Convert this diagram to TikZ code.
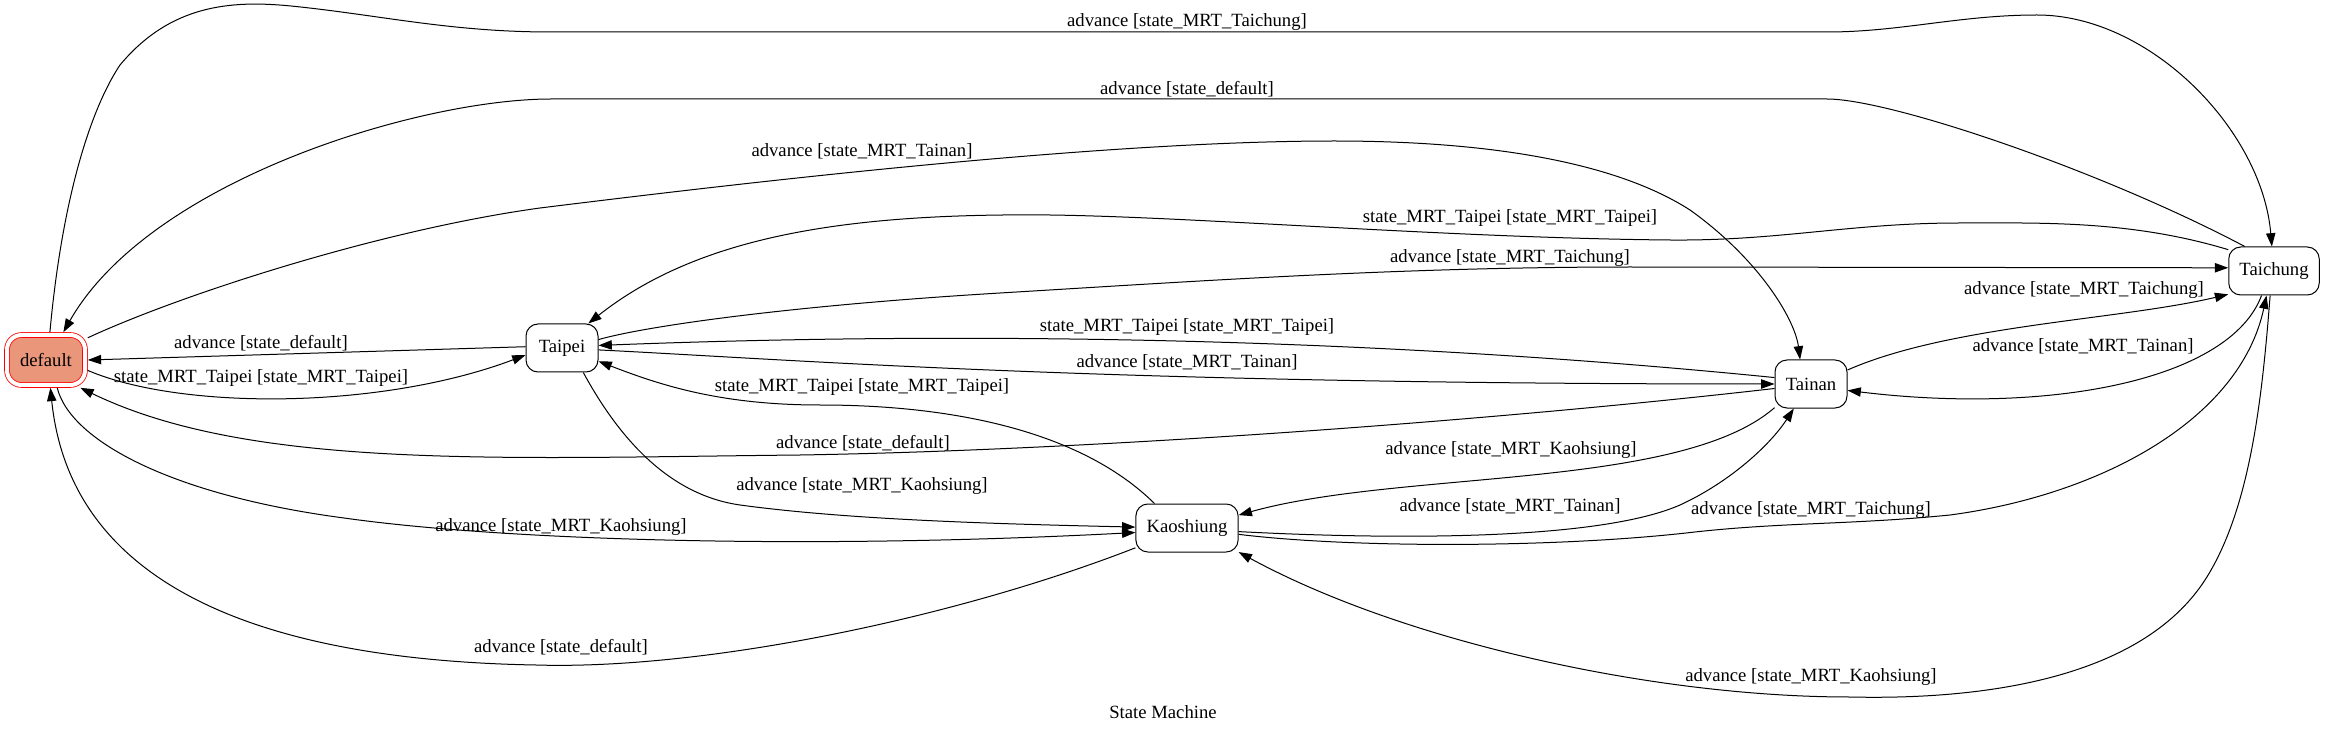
\documentclass[tikz,border=0pt]{standalone}
\usepackage{fontspec}
\setmainfont{Liberation Serif}
\usepackage{xcolor}
\usepackage{tikz}
\usetikzlibrary{arrows.meta}

\definecolor{darksalmon}{RGB}{233,150,122}

\tikzset{
    state/.style = {draw, rounded corners = 9pt, line width = 0.75pt,
        minimum width = 54pt, minimum height = 36pt, inner xsep = 8pt},
    initstate/.style = {draw = red, fill = darksalmon, double = white,
        double distance = 3pt, line width = 0.6pt, rounded corners = 11pt,
        minimum width = 58.5pt, minimum height = 37.5pt, outer sep = 2.1pt},
    tr/.style = {line width = 0.75pt, -{Triangle[length = 10pt, width = 7pt]}},
    lbl/.style = {inner sep = 0pt}
}

\begin{document}
\begin{tikzpicture}[x = 0.75pt, y = -0.75pt, font = \fontsize{14}{16.8}\selectfont]
                \useasboundingbox (0, 0) rectangle (2325, 734);

                \node [initstate] (default) at (46, 360) {default};
                \node [state] (Taipei) at (562, 348) {Taipei};
                \node [state] (Tainan) at (1811, 384) {Tainan};
                \node [state] (Taichung) at (2274, 271) {Taichung};
                \node [state] (Kaoshiung) at (1187, 528) {Kaoshiung};

                \draw [tr] (default.82) .. controls (62, 200) and (90, 110) .. (120, 65)
                    .. controls (170, 5) and (230, 0) .. (291, 6)
                    .. controls (380, 15) and (450, 32) .. (551, 32) -- (1827, 32)
                    .. controls (1900, 32) and (1960, 15) .. (2037, 15)
                    .. controls (2150, 15) and (2262, 130) .. (Taichung.95);
                \draw [tr] (Taichung.140) .. controls (2100, 170) and (1890, 99) .. (1827, 99) -- (551, 99)
                    .. controls (420, 99) and (150, 180) .. (default.58);
                \draw [tr] (default.28) .. controls (180, 295) and (380, 230) .. (540, 208)
                    .. controls (750, 182) and (1100, 141) .. (1334, 141)
                    .. controls (1500, 141) and (1620, 165) .. (1690, 210)
                    .. controls (1760, 260) and (1795, 320) .. (Tainan.114);
                \draw [tr] (Taichung.155) .. controls (2130, 220) and (2040, 223) .. (1959, 223)
                    .. controls (1850, 223) and (1780, 241) .. (1670, 240)
                    .. controls (1450, 238) and (1200, 217) .. (1050, 215)
                    .. controls (850, 213) and (700, 235) .. (Taipei.43);
                \draw [tr] (Taipei.13) .. controls (650, 325) and (800, 305) .. (1000, 293)
                    .. controls (1200, 281) and (1400, 267) .. (1631, 267) -- (Taichung.176);
                \draw [tr] (Taipei.178) -- (default.east);
                \draw [tr] (default.-14) .. controls (180, 410) and (380, 410) .. (Taipei.191);
                \draw [tr] (Tainan.170) .. controls (1450, 345) and (1050, 328) .. (Taipei.4);
                \draw [tr] (Taipei.-3) .. controls (800, 360) and (1100, 384) .. (Tainan.west);
                \draw [tr] (Tainan.21) .. controls (1950, 325) and (2120, 320) .. (Taichung.207);
                \draw [tr] (Taichung.243) .. controls (2230, 380) and (2050, 415) .. (Tainan.-10);
                \draw [tr] (Kaoshiung.143) .. controls (1080, 430) and (950, 405) .. (820, 405)
                    .. controls (720, 405) and (660, 385) .. (Taipei.-20);
                \draw [tr] (Tainan.187) .. controls (1500, 420) and (1100, 450) .. (800, 455)
                    .. controls (500, 458) and (250, 470) .. (default.-39);
                \draw [tr] (Tainan.213) .. controls (1680, 490) and (1400, 470) .. (Kaoshiung.14);
                \draw [tr] (Taipei.-49) .. controls (620, 440) and (670, 495) .. (740, 505)
                    .. controls (850, 520) and (1000, 524) .. (Kaoshiung.179);
                \draw [tr] (Kaoshiung.-4) .. controls (1400, 540) and (1600, 540) .. (1680, 505)
                    .. controls (1730, 482) and (1770, 445) .. (Tainan.235);
                \draw [tr] (Kaoshiung.-7) .. controls (1350, 548) and (1550, 548) .. (1686, 533)
                    .. controls (1780, 522) and (1850, 525) .. (1950, 515)
                    .. controls (2100, 495) and (2240, 420) .. (Taichung.253);
                \draw [tr] (default.-68) .. controls (70, 440) and (170, 495) .. (344, 518)
                    .. controls (500, 540) and (800, 550) .. (Kaoshiung.185);
                \draw [tr] (Kaoshiung.201) .. controls (950, 620) and (700, 670) .. (536, 665)
                    .. controls (250, 660) and (70, 580) .. (default.-81);
                \draw [tr] (Taichung.261) .. controls (2262, 400) and (2250, 510) .. (2205, 580)
                    .. controls (2140, 680) and (1980, 700) .. (1850, 697)
                    .. controls (1650, 697) and (1400, 640) .. (Kaoshiung.-25);

                \node [lbl] (l1) at (1187, 22) {advance [state\_MRT\_Taichung]};
                \node [lbl] (l2) at (1187, 89) {advance [state\_default]};
                \node [lbl] (l3) at (862, 151) {advance [state\_MRT\_Tainan]};
                \node [lbl] (l4) at (1510, 218) {state\_MRT\_Taipei [state\_MRT\_Taipei]};
                \node [lbl] (l5) at (1510, 258) {advance [state\_MRT\_Taichung]};
                \node [lbl] (l6) at (261, 343) {advance [state\_default]};
                \node [lbl] (l7) at (261, 378) {state\_MRT\_Taipei [state\_MRT\_Taipei]};
                \node [lbl] (l8) at (1187, 327) {state\_MRT\_Taipei [state\_MRT\_Taipei]};
                \node [lbl] (l9) at (1187, 362) {advance [state\_MRT\_Tainan]};
                \node [lbl] (l10) at (2084, 290) {advance [state\_MRT\_Taichung]};
                \node [lbl] (l11) at (2083, 346) {advance [state\_MRT\_Tainan]};
                \node [lbl] (l12) at (862, 387) {state\_MRT\_Taipei [state\_MRT\_Taipei]};
                \node [lbl] (l13) at (863, 443) {advance [state\_default]};
                \node [lbl] (l14) at (1511, 450) {advance [state\_MRT\_Kaohsiung]};
                \node [lbl] (l15) at (862, 486) {advance [state\_MRT\_Kaohsiung]};
                \node [lbl] (l16) at (1510, 506) {advance [state\_MRT\_Tainan]};
                \node [lbl] (l17) at (1811, 510) {advance [state\_MRT\_Taichung]};
                \node [lbl] (l18) at (561, 527) {advance [state\_MRT\_Kaohsiung]};
                \node [lbl] (l19) at (561, 647) {advance [state\_default]};
                \node [lbl] (l20) at (1811, 677) {advance [state\_MRT\_Kaohsiung]};
                \node [lbl] (title) at (1163, 712) {State Machine};
\end{tikzpicture}
\end{document}
